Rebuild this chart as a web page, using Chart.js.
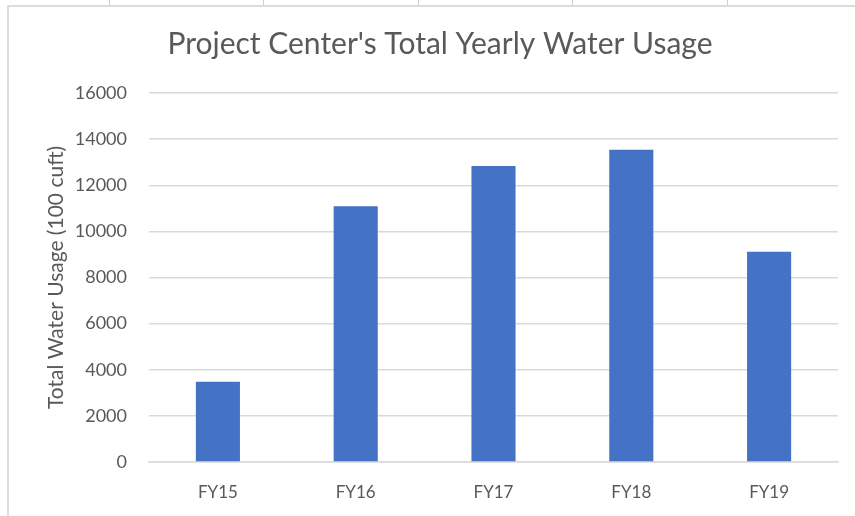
<!DOCTYPE html>
<html>
<head>
<meta charset="utf-8">
<script src="https://cdn.jsdelivr.net/npm/chart.js@4.4.0/dist/chart.umd.min.js"></script>
<style>
  html, body { margin: 0; padding: 0; background: #fff; }
  #wrap { position: relative; width: 855px; height: 516px; overflow: hidden; }
  #frame { position: absolute; left: 7px; top: 5px; right: 0; bottom: 0;
           border-top: 2px solid #dcdcdc; border-left: 2px solid #dcdcdc; }
  .tick { position: absolute; top: 0; width: 1px; height: 5px; background: #d0d0d0; }
  canvas { position: absolute; left: 0; top: 0; }
</style>
</head>
<body>
<div id="wrap">
  <div id="frame"></div>
  <div class="tick" style="left:109px"></div>
  <div class="tick" style="left:263px"></div>
  <div class="tick" style="left:418px"></div>
  <div class="tick" style="left:572px"></div>
  <div class="tick" style="left:727px"></div>
  <canvas id="waterChart" width="855" height="516"></canvas>
</div>
<script>
// data
const years = ["FY15", "FY16", "FY17", "FY18", "FY19"];
const waterUsage = [3480, 11090, 12830, 13540, 9120];
const yTicks = [0, 2000, 4000, 6000, 8000, 10000, 12000, 14000, 16000];

const chartTitle = "Project Center's Total Yearly Water Usage";
const yAxisTitle = "Total Water Usage (100 cuft)";

const textColor = '#595959';
const gridColor = '#d9d9d9';
const fontName = "Lato, 'Open Sans', sans-serif";

const ctx = document.getElementById('waterChart').getContext('2d');
const chart = new Chart(ctx, {
    type: 'bar',
    data: {
        labels: years,
        datasets: [{
            label: yAxisTitle,
            data: waterUsage,
            backgroundColor: '#4472C4',
            borderWidth: 0,
            barPercentage: 0.32,
            categoryPercentage: 1
        }]
    },
    options: {
        responsive: false,
        animation: false,
        layout: {
            padding: { left: 42, right: 17, top: 0, bottom: 0 }
        },
        plugins: {
            legend: { display: false },
            tooltip: { enabled: false },
            title: {
                display: true,
                text: chartTitle,
                color: textColor,
                font: { family: fontName, size: 30, weight: 'normal' },
                padding: { top: 26, bottom: 31 }
            }
        },
        scales: {
            x: {
                afterFit: (axis) => {
                    axis.height = 54;
                },
                grid: { display: false, drawTicks: false },
                border: { display: true, color: gridColor, width: 1.5 },
                ticks: {
                    color: textColor,
                    padding: 20,
                    font: { family: fontName, size: 17 }
                }
            },
            y: {
                min: 0,
                max: 16000,
                afterBuildTicks: (axis) => {
                    axis.ticks = yTicks.map(v => ({ value: v }));
                },
                afterFit: (axis) => {
                    axis.width = 107;
                },
                grid: { color: gridColor, lineWidth: 1.5, drawTicks: false },
                border: { display: false },
                ticks: {
                    color: textColor,
                    padding: 22,
                    font: { family: fontName, size: 18 },
                    callback: (v) => String(v)
                },
                title: {
                    display: true,
                    text: yAxisTitle,
                    color: textColor,
                    padding: { top: 2, bottom: 0 },
                    font: { family: fontName, size: 21 }
                }
            }
        }
    }
});
</script>
</body>
</html>
